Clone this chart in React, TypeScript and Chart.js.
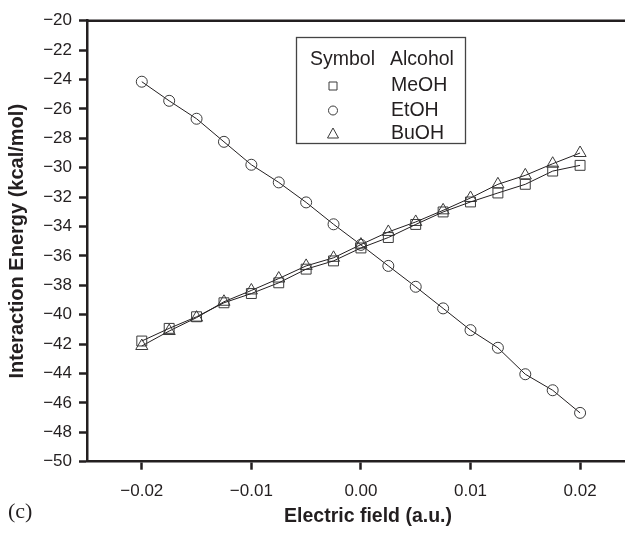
import { useEffect, useRef } from "react";
import { Chart, registerables } from "chart.js";

Chart.register(...registerables);

// Electric field strengths (a.u.)
const fieldValues = [
  -0.02, -0.0175, -0.015, -0.0125, -0.01, -0.0075, -0.005, -0.0025, 0,
  0.0025, 0.005, 0.0075, 0.01, 0.0125, 0.015, 0.0175, 0.02,
];

// Interaction energies (kcal/mol)
const meohEnergy = [
  -41.79, -40.93, -40.14, -39.19, -38.56, -37.83, -36.9, -36.34, -35.46,
  -34.75, -33.86, -33.01, -32.33, -31.72, -31.13, -30.23, -29.84,
];
const etohEnergy = [
  -24.15, -25.45, -26.67, -28.24, -29.8, -31.0, -32.36, -33.85, -35.25,
  -36.68, -38.1, -39.57, -41.05, -42.25, -44.05, -45.14, -46.68,
];
const buohEnergy = [
  -42.13, -41.11, -40.2, -39.12, -38.35, -37.54, -36.68, -36.13, -35.23,
  -34.37, -33.69, -32.9, -32.06, -31.13, -30.52, -29.73, -29.0,
];

const xTicks = [-0.02, -0.01, 0, 0.01, 0.02];
const yTicks = [-20, -22, -24, -26, -28, -30, -32, -34, -36, -38, -40, -42, -44, -46, -48, -50];

const legendRows = [
  { style: "rect", name: "MeOH" },
  { style: "circle", name: "EtOH" },
  { style: "triangle", name: "BuOH" },
];

const INK = "#231f20";
const MARK = "#3a3a3a";
const SANS = "'Liberation Sans', Arial, Helvetica, sans-serif";

const minus = (s: string) => s.replace("-", "\u2212");

// Small open marker for the key
function keyMarker(ctx: CanvasRenderingContext2D, style: string, x: number, y: number) {
  ctx.beginPath();
  if (style === "rect") {
    ctx.rect(x - 4, y - 4, 8, 8);
  } else if (style === "circle") {
    ctx.arc(x, y, 4.5, 0, Math.PI * 2);
  } else {
    ctx.moveTo(x, y - 6);
    ctx.lineTo(x + 5.5, y + 4);
    ctx.lineTo(x - 5.5, y + 4);
    ctx.closePath();
  }
  ctx.stroke();
}

// Top frame line, the symbol/alcohol key, the x title and the panel letter
const decorations = {
  id: "decorations",
  afterDraw(chart: any) {
    const { ctx, chartArea } = chart;
    ctx.save();
    ctx.strokeStyle = INK;
    ctx.lineWidth = 2.5;
    ctx.beginPath();
    ctx.moveTo(chartArea.left, chartArea.top);
    ctx.lineTo(chartArea.right, chartArea.top);
    ctx.stroke();

    // key box
    ctx.lineWidth = 1.3;
    ctx.strokeStyle = "#444";
    ctx.strokeRect(296.5, 37.5, 169, 106);

    ctx.fillStyle = INK;
    ctx.font = `19.5px ${SANS}`;
    ctx.textBaseline = "middle";
    ctx.textAlign = "left";
    ctx.fillText("Symbol", 310, 60);
    ctx.fillText("Alcohol", 390, 60);

    const rowY = [86, 110.5, 134];
    legendRows.forEach((row, i) => {
      ctx.fillText(row.name, 391, rowY[i]);
      ctx.lineWidth = 1;
      ctx.strokeStyle = MARK;
      keyMarker(ctx, row.style, 333, rowY[i]);
    });

    ctx.font = `bold 19.5px ${SANS}`;
    ctx.textAlign = "center";
    ctx.fillText("Electric field (a.u.)", 368, 517);

    ctx.textAlign = "left";
    ctx.font = `22px 'Liberation Serif', 'Times New Roman', serif`;
    ctx.fillText("(c)", 8, 512);
    ctx.restore();
  },
};

export default function App() {
  const canvasRef = useRef<HTMLCanvasElement | null>(null);

  useEffect(() => {
    const canvas = canvasRef.current;
    if (!canvas) return;

    const series = (label: string, data: number[], style: string, radius: number) => ({
      label,
      data: fieldValues.map((x, i) => ({ x, y: data[i] })),
      showLine: true,
      borderColor: INK,
      borderWidth: 1,
      pointStyle: style,
      pointRadius: radius,
      pointBorderColor: MARK,
      pointBorderWidth: 1,
      pointBackgroundColor: "rgba(0,0,0,0)",
      tension: 0,
    });

    const chart = new Chart(canvas, {
      type: "scatter",
      data: {
        datasets: [
          series("MeOH", meohEnergy, "rect", 7),
          series("EtOH", etohEnergy, "circle", 5.5),
          series("BuOH", buohEnergy, "triangle", 7),
        ],
      },
      options: {
        responsive: false,
        animation: false,
        layout: { autoPadding: false, padding: { top: 20.7, right: 0, left: 0, bottom: 0 } },
        plugins: {
          legend: { display: false },
          tooltip: { enabled: false },
        },
        scales: {
          x: {
            type: "linear",
            min: -0.025,
            max: 0.0241,
            afterBuildTicks: (scale: any) => {
              scale.ticks = xTicks.map((value) => ({ value }));
            },
            afterFit: (scale: any) => {
              scale.height = 75.3;
              scale.paddingLeft = 0;
              scale.paddingRight = 0;
            },
            border: { display: true, color: INK, width: 2.5 },
            grid: { drawOnChartArea: false, drawTicks: true, tickLength: 8, tickWidth: 2.5, tickColor: INK },
            ticks: {
              color: INK,
              padding: 11,
              font: { family: SANS, size: 17 },
              callback: (v: any) => minus(Number(v).toFixed(2)),
            },
          },
          y: {
            type: "linear",
            min: -50,
            max: -20,
            afterBuildTicks: (scale: any) => {
              scale.ticks = yTicks.map((value) => ({ value }));
            },
            afterFit: (scale: any) => {
              scale.width = 87;
              scale.paddingTop = 0;
              scale.paddingBottom = 0;
            },
            border: { display: true, color: INK, width: 2.5 },
            grid: { drawOnChartArea: false, drawTicks: true, tickLength: 8, tickWidth: 2.5, tickColor: INK },
            ticks: {
              color: INK,
              padding: 7,
              font: { family: SANS, size: 17 },
              callback: (v: any) => minus(String(v)),
            },
            title: {
              display: true,
              text: "Interaction Energy (kcal/mol)",
              color: INK,
              font: { family: SANS, size: 20, weight: "bold" },
              padding: { top: 5, bottom: 0 },
            },
          },
        },
      },
      plugins: [decorations],
    } as any);

    return () => chart.destroy();
  }, []);

  return (
    <div style={{ position: "absolute", left: 0, top: 0, width: 625, height: 537, background: "#fff" }}>
      <canvas ref={canvasRef} width={625} height={537} style={{ display: "block" }} />
    </div>
  );
}
